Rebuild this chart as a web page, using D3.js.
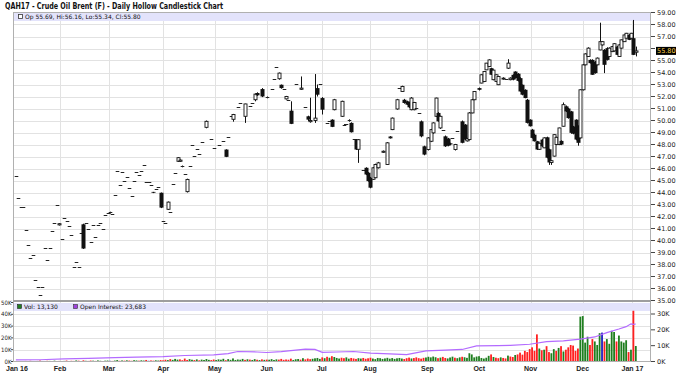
<!DOCTYPE html>
<html lang="en">
<head>
<meta charset="utf-8">
<script src="https://d3js.org/d3.v7.min.js"></script>
<style>
body { margin:0; background:#fff; }
svg { display:block; font-family:"DejaVu Sans", sans-serif; }
.grid line { stroke:#e2e2e2; shape-rendering:crispEdges; }
.tick-lbl { font-size:6.5px; fill:#222; }
.vol-lbl { font: 6px "DejaVu Sans Condensed", sans-serif; fill:#222; }
.mon { font: bold 7px "Liberation Sans", sans-serif; fill:#222; }
</style>
</head>
<body>
<script>
// month labels and the trading-day slot where each month starts
var monthLabels = ["Jan 16","Feb","Mar","Apr","May","Jun","Jul","Aug","Sep","Oct","Nov","Dec","Jan 17"];
var monthStart  = [0, 18.3, 38.6, 61.1, 82.5, 104, 126.8, 146.8, 170.6, 192.1, 213.4, 235, 255.6];

var priceTicks = d3.range(35, 60);
var volTicks = [0, 10000, 20000, 30000, 40000, 50000];
var oiTicks = [0, 10000, 20000, 30000];

// [day, open, high, low, close]
var candles = [
[0,45.36,45.36,45.36,45.36],[1,43.53,43.53,43.53,43.53],[2,42.82,42.82,42.82,42.82],[3,42.82,42.82,42.82,42.82],
[4,40.85,40.85,40.85,40.85],[5,39.60,39.60,39.60,39.60],[6,38.58,38.58,38.58,38.58],[7,38.80,38.80,38.80,38.80],
[8,36.72,36.72,36.72,36.72],[9,36.12,36.12,36.12,36.12],[10,35.48,35.48,35.48,35.48],[11,36.14,36.14,36.14,36.14],
[12,39.40,39.40,39.40,39.40],[13,38.36,38.36,38.36,38.36],[14,39.40,39.40,39.40,39.40],[15,40.77,40.77,40.77,40.77],
[16,41.43,41.43,41.43,41.43],[17,42.93,42.93,42.93,42.93],[18,41.30,41.45,41.25,41.40],[19,40.16,40.16,40.16,40.16],
[20,41.85,41.85,41.85,41.85],[21,41.60,41.60,41.60,41.60],[22,41.24,41.24,41.24,41.24],[23,40.46,40.46,40.46,40.46],
[24,37.78,37.78,37.78,37.78],[25,38.19,38.19,38.19,38.19],[26,37.78,37.78,37.78,37.78],[27,40.66,40.66,40.66,40.66],
[28,41.35,41.40,39.30,39.33],[29,41.50,41.50,41.50,41.50],[30,41.00,41.00,41.00,41.00],[31,39.90,39.90,39.90,39.90],
[32,41.33,41.33,41.33,41.33],[33,40.27,40.27,40.27,40.27],[34,41.27,41.27,41.27,41.27],[35,41.50,41.50,41.50,41.50],
[36,41.00,41.00,41.00,41.00],[37,42.16,42.16,42.16,42.16],[38,42.30,42.30,42.30,42.30],[39,42.35,42.40,42.25,42.30],
[40,42.20,42.20,42.20,42.20],[41,43.76,43.76,43.76,43.76],[42,45.83,45.83,45.83,45.83],[43,44.62,44.62,44.62,44.62],
[44,45.70,45.70,45.70,45.70],[45,44.92,44.92,44.92,44.92],[46,45.33,45.33,45.33,45.33],[47,44.36,44.36,44.36,44.36],
[48,43.73,43.73,43.73,43.73],[49,44.98,44.98,44.98,44.98],[50,45.73,45.73,45.73,45.73],[51,45.45,45.45,45.45,45.45],
[52,45.81,45.81,45.81,45.81],[53,46.28,46.28,46.28,46.28],[54,44.87,44.87,44.87,44.87],[55,44.87,44.87,44.87,44.87],
[56,44.65,44.65,44.65,44.65],[57,44.05,44.05,43.95,43.98],[58,44.26,44.26,44.26,44.26],[59,44.48,44.48,44.48,44.48],
[60,43.98,44.00,42.70,42.74],[61,41.62,41.62,41.62,41.62],[62,41.43,41.43,41.43,41.43],[63,42.60,43.25,42.55,43.20],
[64,42.37,42.37,42.37,42.37],[65,44.70,44.70,44.70,44.70],[66,45.60,45.60,45.60,45.60],[67,46.60,46.95,46.55,46.90],
[68,46.60,46.75,46.55,46.70],[69,46.15,46.25,46.10,46.20],[70,45.56,45.56,45.56,45.56],[71,44.07,45.15,44.00,45.09],
[72,46.20,46.20,46.20,46.20],[73,48.00,48.00,48.00,48.00],[74,47.02,47.02,47.02,47.02],[75,47.66,47.66,47.66,47.66],
[76,47.22,47.22,47.22,47.22],[77,48.22,48.22,48.22,48.22],[79,49.43,50.00,49.35,49.93],[81,48.50,48.50,48.50,48.50],
[82,47.72,47.72,47.72,47.72],[84,47.94,47.94,47.94,47.94],[86,48.33,48.33,48.33,48.33],[87,47.58,47.60,46.95,46.97],
[88,48.66,48.66,48.66,48.66],[89,50.35,50.35,50.35,50.35],[90,50.10,50.55,49.90,50.50],[92,51.10,51.10,51.10,51.10],
[93,51.46,51.46,51.46,51.46],[95,50.35,51.40,49.80,51.38],[97,51.18,51.18,51.18,51.18],[98,51.46,51.46,51.46,51.46],
[99,51.73,52.25,51.60,52.20],[100,52.29,52.35,52.05,52.10],[102,52.62,52.70,51.95,52.00],[104,51.90,52.00,51.85,51.96],
[106,52.62,52.62,52.62,52.62],[107,53.48,53.48,53.48,53.48],[108,54.45,54.45,54.45,54.45],[109,53.48,54.00,53.40,53.95],
[110,52.98,53.00,52.65,52.70],[111,52.62,52.62,52.62,52.62],[112,51.80,52.05,51.75,52.00],[113,51.73,51.73,51.73,51.73],
[114,50.82,51.60,49.70,49.72],[116,53.04,53.04,53.04,53.04],[118,52.60,53.67,52.55,52.70],[120,51.10,51.10,51.10,51.10],
[121,50.35,50.40,49.95,50.07],[122,49.90,51.90,49.82,50.00],[124,50.00,53.87,49.80,50.20],[125,52.70,53.00,52.00,52.15],
[126,53.04,53.04,53.04,53.04],[127,51.87,51.95,50.50,50.90],[129,49.80,49.80,49.80,49.80],[130,49.93,49.93,49.93,49.93],
[131,50.07,50.10,49.45,49.47],[132,50.90,51.80,50.85,51.73],[135,50.35,51.65,50.30,51.60],[136,49.60,49.70,49.55,49.66],
[137,49.74,49.74,49.74,49.74],[138,49.95,50.10,49.90,50.01],[139,49.80,49.85,49.00,49.02],[140,48.47,48.47,48.47,48.47],
[141,48.41,48.45,47.55,47.58],[142,47.60,48.45,46.47,48.40],[144,45.86,45.86,45.86,45.86],[145,46.06,46.10,45.45,45.50],
[146,45.65,45.70,44.90,44.95],[147,45.23,45.30,44.35,44.40],[148,45.10,46.10,45.05,46.06],[149,45.23,46.40,45.20,46.33],
[150,46.06,46.55,46.00,46.47],[152,47.35,47.50,47.30,47.44],[154,46.33,48.20,46.30,48.14],[155,48.55,48.70,48.50,48.63],
[156,49.24,50.25,49.20,50.20],[158,50.96,51.80,50.90,51.73],[159,52.70,52.70,52.70,52.70],[160,52.42,52.90,52.40,52.84],
[161,51.73,51.80,51.40,51.46],[162,51.60,51.65,51.30,51.32],[163,51.50,51.55,51.05,51.10],[164,50.90,51.95,50.85,51.87],
[165,50.90,51.55,50.85,51.50],[166,51.04,51.04,51.04,51.04],[167,50.63,50.63,50.63,50.63],[168,49.93,50.00,48.60,48.68],
[169,47.85,47.90,47.10,47.16],[171,47.58,48.60,47.50,48.55],[172,48.27,49.30,48.20,49.24],[173,48.97,49.85,48.90,49.80],
[174,50.35,51.90,50.30,51.87],[175,50.63,50.70,49.90,49.93],[176,49.38,50.40,49.30,50.35],[177,49.18,49.18,49.18,49.18],
[178,48.68,48.75,47.80,47.85],[179,48.50,48.55,47.85,47.90],[180,48.10,48.15,47.95,48.00],[181,48.55,48.55,48.55,48.55],
[182,47.58,48.05,47.50,48.00],[183,49.10,49.10,49.10,49.10],[185,49.93,50.00,48.10,48.14],[186,49.66,49.70,48.35,48.41],
[187,48.30,48.55,48.25,48.50],[188,48.41,50.70,48.35,50.63],[189,50.63,51.80,50.60,51.73],[190,51.73,52.45,51.70,52.42],
[192,52.70,52.75,52.50,52.56],[193,53.12,53.85,53.10,53.81],[194,53.25,54.10,53.20,54.08],[195,54.22,54.80,54.20,54.78],
[196,54.50,55.10,54.45,55.05],[197,54.36,54.40,53.80,53.81],[198,53.40,54.25,53.35,54.20],[199,53.25,53.85,53.20,53.81],
[200,52.98,53.70,52.95,53.67],[202,53.45,53.60,53.40,53.53],[203,53.50,53.50,53.50,53.50],[204,54.36,55.11,54.30,54.78],
[205,53.40,53.60,53.35,53.53],[206,53.81,53.85,53.35,53.40],[207,54.08,54.10,53.50,53.53],[208,53.90,53.95,53.25,53.30],
[209,53.53,53.60,52.40,52.42],[210,52.98,53.00,52.10,52.15],[211,52.56,52.60,51.85,51.87],[212,51.73,51.80,49.75,49.80],
[213,50.07,50.10,49.50,49.52],[214,49.24,49.30,48.50,48.55],[215,48.82,48.90,48.25,48.27],[216,48.27,48.30,47.55,47.58],
[217,47.60,48.15,47.55,48.10],[218,48.41,48.45,47.80,47.85],[219,47.72,48.60,47.70,48.55],[220,48.60,48.65,46.85,46.90],
[221,47.60,47.65,46.30,46.50],[222,46.50,46.70,46.30,46.65],[223,47.03,48.85,47.00,48.82],[224,48.00,48.65,47.95,48.60],
[225,48.00,49.40,47.95,49.38],[226,48.30,48.35,47.95,48.00],[227,49.52,51.50,49.50,51.32],[228,51.18,51.25,50.70,50.76],
[229,51.00,51.05,50.15,50.20],[230,50.76,50.80,48.90,48.97],[231,49.50,49.55,48.85,48.90],[232,50.07,50.10,48.35,48.41],
[233,49.52,49.60,47.90,48.14],[234,48.55,52.60,48.50,52.56],[235,52.56,54.70,52.50,54.64],[236,54.64,55.60,54.60,55.55],
[237,55.33,56.10,55.30,56.03],[238,55.05,55.10,54.75,54.78],[239,55.05,55.10,53.80,53.81],[240,54.90,54.95,53.90,53.95],
[241,54.64,55.25,54.60,55.20],[242,55.88,58.15,55.85,56.57],[243,56.30,56.60,56.25,56.57],[244,55.88,55.95,53.95,54.64],
[245,56.03,56.10,55.00,55.05],[246,55.33,56.10,55.30,56.03],[247,55.74,56.20,55.70,56.16],[248,55.80,56.45,55.75,56.40],
[249,56.16,56.20,55.45,55.47],[250,55.33,56.35,55.30,56.30],[251,56.03,56.75,56.00,56.72],[252,56.57,57.15,56.55,57.13],
[253,56.86,57.30,56.85,57.27],[254,57.13,57.20,56.70,56.72],[255,56.86,57.30,56.85,57.27],[256,56.86,58.38,55.45,55.47],
[257,55.69,56.16,55.34,55.80]
];

// daily volume in contracts (thousands), one entry per day slot 0..257
var volumeK = [
0.3,0.2,0.4,0.2,0.5,0.3,0.6,0.4,0.3,0.5,0.8,0.4,0.3,0.6,0.5,0.4,0.7,0.3,0.5,0.4,
0.5,0.8,0.4,0.6,0.5,0.9,0.7,0.4,1.0,0.6,0.5,0.8,0.7,0.5,0.9,0.6,0.4,0.7,0.8,0.6,0.5,
0.8,1.2,0.6,0.9,0.7,1.0,0.8,0.6,1.1,0.9,0.7,1.0,0.8,1.3,0.6,0.9,0.7,1.0,0.8,1.2,
1.0,1.5,1.2,2.0,1.4,2.2,1.6,1.8,1.1,2.5,1.3,2.0,1.5,1.2,1.8,1.0,1.6,1.3,2.1,1.4,1.2,1.7,
1.2,1.8,1.5,2.3,1.1,2.0,1.4,2.6,1.3,1.7,1.5,2.2,1.4,1.9,1.6,1.3,2.0,1.5,1.2,1.8,1.4,1.6,
1.5,2.0,1.3,1.8,1.6,2.2,1.4,1.7,1.5,2.4,1.3,1.9,2.1,1.6,2.8,1.8,2.5,2.0,2.3,2.7,3.0,2.2,
3.5,2.8,4.0,3.2,4.5,3.8,3.0,2.5,3.2,2.8,3.5,2.4,3.0,2.6,2.2,2.8,2.5,3.0,2.3,2.7,3.2,
2.5,2.0,3.0,2.8,2.2,2.6,3.1,2.4,2.9,2.2,2.7,3.0,2.5,2.1,2.8,3.3,2.6,2.9,3.5,2.8,2.4,3.1,3.4,
4.0,3.5,4.2,3.6,2.8,3.3,3.9,3.0,2.6,3.4,4.1,3.2,2.8,3.5,4.0,3.6,3.1,7.0,6.0,3.5,4.2,
4.5,3.0,2.5,3.2,4.8,6.0,3.8,3.2,2.8,3.5,3.0,2.6,5.0,4.2,3.8,5.5,6.0,7.5,5.8,9.0,8.0,
10.5,12.0,9.0,23.0,11.0,9.5,10.0,13.0,8.0,7.0,10.5,9.0,11.5,13.0,8.5,10.0,12.0,14.0,13.5,9.0,11.0,38.0,
38.5,16.0,21.0,14.0,19.0,17.0,14.0,24.0,24.5,17.0,19.0,15.0,26.0,25.0,17.0,22.0,17.0,16.0,18.0,8.0,10.0,43.0,13.13
];

// open interest (thousands) read at [day, value]
var openInterest = [
[0,1.0],[10,1.1],[20,1.6],[30,2.0],[41,2.5],[50,2.8],[61,3.1],[70,3.8],[82,4.2],[88,5.0],[92,6.3],[100,6.0],
[104,5.7],[110,6.2],[115,7.0],[120,7.8],[124,7.6],[127,5.8],[133,6.0],[140,6.3],[147,5.3],[155,4.8],[162,4.4],
[170,6.7],[178,7.2],[185,7.6],[191,9.9],[200,10.0],[205,10.2],[213,10.9],[220,12.6],[227,13.0],[234,14.1],
[240,15.5],[245,18.2],[250,20.5],[253,22.0],[255,23.8],[256,23.5],[257,23.7]
];

var W = 680, H = 386;
var L = 13, R = 651;
var pTop = 12.5, pBot = 300.5, vTop = 301.5, vBot = 361.5;

var svg = d3.select("body").append("svg").attr("width", W).attr("height", H);

var x = d3.scaleLinear().domain([-1.2, 263.3]).range([L, R]);
var y = d3.scaleLinear().domain([35, 59]).range([pBot, pTop]);
var yv = d3.scaleLinear().domain([0, 50000]).range([vBot, vTop + 1]);
var yo = d3.scaleLinear().domain([0, 30000]).range([vBot, 314]);

// title
svg.append("text").attr("x", 5).attr("y", 9)
  .style("font", "bold 8.6px 'DejaVu Sans Condensed', sans-serif").style("fill", "#111")
  .attr("textLength", 218).attr("lengthAdjust", "spacingAndGlyphs")
  .text("QAH17 - Crude Oil Brent (F) - Daily Hollow Candlestick Chart");

// panel backgrounds
svg.append("rect").attr("x", L).attr("y", pTop).attr("width", R - L).attr("height", pBot - pTop).attr("fill", "#fff");
svg.append("rect").attr("x", L).attr("y", vTop).attr("width", R - L).attr("height", vBot - vTop).attr("fill", "#fff");

// grid
var grid = svg.append("g").attr("class", "grid");
grid.selectAll(".hp").data(priceTicks).enter().append("line")
  .attr("x1", L).attr("x2", R).attr("y1", d => Math.round(y(d)) + 0.5).attr("y2", d => Math.round(y(d)) + 0.5);
grid.selectAll(".hv").data(volTicks.slice(1, 5)).enter().append("line")
  .attr("x1", L).attr("x2", R).attr("y1", d => Math.round(yv(d)) + 0.5).attr("y2", d => Math.round(yv(d)) + 0.5);
grid.selectAll(".vp").data(monthStart.slice(1)).enter().append("line")
  .attr("x1", d => Math.round(x(d)) + 0.5).attr("x2", d => Math.round(x(d)) + 0.5)
  .attr("y1", pTop).attr("y2", pBot);
grid.selectAll(".vv").data(monthStart.slice(1)).enter().append("line")
  .attr("x1", d => Math.round(x(d)) + 0.5).attr("x2", d => Math.round(x(d)) + 0.5)
  .attr("y1", vTop).attr("y2", vBot);

// legend bands
svg.append("rect").attr("x", L + 1).attr("y", 13).attr("width", R - L - 1).attr("height", 8).attr("fill", "#e3e3fb");
svg.append("rect").attr("x", L + 1).attr("y", 303).attr("width", R - L - 1).attr("height", 8).attr("fill", "#e3e3fb");

svg.append("rect").attr("x", 18.5).attr("y", 14.5).attr("width", 4).attr("height", 4)
  .attr("fill", "#fff").attr("stroke", "#333").attr("stroke-width", 0.8);
svg.append("text").attr("x", 25).attr("y", 19).style("font-size", "6px").style("fill", "#111")
  .text("Op 55.69, Hi:56.16, Lo:55.34, Cl:55.80");

svg.append("rect").attr("x", 17.5).attr("y", 304.5).attr("width", 4).attr("height", 4)
  .attr("fill", "#1f7f1f").attr("stroke", "#222").attr("stroke-width", 0.6);
svg.append("text").attr("x", 24).attr("y", 309.3).style("font-size", "6px").style("fill", "#111").text("Vol: 13,130");
svg.append("rect").attr("x", 73.5).attr("y", 304.5).attr("width", 4).attr("height", 4)
  .attr("fill", "#a040e0").attr("stroke", "#333").attr("stroke-width", 0.6);
svg.append("text").attr("x", 80).attr("y", 309.3).style("font-size", "6px").style("fill", "#111").text("Open Interest: 23,683");

// candles
var cg = svg.append("g");
candles.forEach(function(d) {
  var cx = Math.round(x(d[0])) + 0.5;
  var o = d[1], h = d[2], l = d[3], c = d[4];
  if (h > l) {
    cg.append("line").attr("x1", cx).attr("x2", cx).attr("y1", y(h)).attr("y2", y(l))
      .attr("stroke", "#111").attr("stroke-width", 1);
  }
  var top = y(Math.max(o, c)), bot = y(Math.min(o, c));
  if (bot - top < 0.8) {
    cg.append("line").attr("x1", cx - 1.8).attr("x2", cx + 1.8)
      .attr("y1", Math.round(top) + 0.5).attr("y2", Math.round(top) + 0.5)
      .attr("stroke", "#222").attr("stroke-width", 1);
  } else if (c >= o) {
    cg.append("rect").attr("x", cx - 1.5).attr("y", top).attr("width", 3).attr("height", bot - top)
      .attr("fill", "#fff").attr("stroke", "#111").attr("stroke-width", 0.9);
  } else {
    cg.append("rect").attr("x", cx - 2).attr("y", top).attr("width", 4).attr("height", bot - top)
      .attr("fill", "#111");
  }
});

// volume bars, coloured by close vs previous close
var closeByDay = {};
candles.forEach(function(d) { closeByDay[d[0]] = d[4]; });
var prevClose = null;
var vbars = [];
volumeK.forEach(function(v, i) {
  var c = closeByDay[i];
  var col = "#1f7f1f";
  if (c !== undefined && prevClose !== null) {
    col = c > prevClose ? "#1f7f1f" : (c < prevClose ? "#ff2020" : "#2020c0");
  }
  if (c !== undefined) prevClose = c;
  vbars.push({ i: i, v: v * 1000, col: col });
});
svg.append("g").selectAll("rect").data(vbars).enter().append("rect")
  .attr("x", d => x(d.i) - 0.9).attr("width", 1.8)
  .attr("y", d => yv(d.v)).attr("height", d => vBot - yv(d.v))
  .attr("fill", d => d.col);

// open interest
var oiLine = d3.line().x(d => x(d[0])).y(d => yo(d[1] * 1000));
svg.append("path").datum(openInterest).attr("d", oiLine)
  .attr("fill", "none").attr("stroke", "#b36bff").attr("stroke-width", 1.2);

// frames
svg.append("rect").attr("x", L + 0.5).attr("y", pTop).attr("width", R - L - 1).attr("height", pBot - pTop)
  .attr("fill", "none").attr("stroke", "#b0b0b0");
svg.append("rect").attr("x", L + 0.5).attr("y", vTop).attr("width", R - L - 1).attr("height", vBot - vTop)
  .attr("fill", "none").attr("stroke", "#b0b0b0");
svg.append("line").attr("x1", L).attr("x2", R).attr("y1", 301).attr("y2", 301).attr("stroke", "#999").attr("stroke-width", 1.5);

// right price axis (the label under the last-price marker is hidden)
var last = candles[candles.length - 1][4];
var ra = svg.append("g");
ra.selectAll("line").data(priceTicks).enter().append("line")
  .attr("x1", R).attr("x2", R + 4).attr("y1", d => y(d)).attr("y2", d => y(d)).attr("stroke", "#444");
ra.selectAll("text").data(priceTicks.filter(d => Math.abs(y(d) - y(last)) > 7)).enter().append("text").attr("class", "tick-lbl")
  .attr("x", R + 6).attr("y", d => y(d)).attr("dy", "0.35em").text(d => d3.format(".2f")(d));

// last price marker
svg.append("rect").attr("x", R + 5).attr("y", y(last) - 4).attr("width", 20).attr("height", 8).attr("fill", "#000");
svg.append("text").attr("class", "tick-lbl").attr("x", R + 6).attr("y", y(last)).attr("dy", "0.35em")
  .style("fill", "#ffd24a").text(d3.format(".2f")(last));

// volume axes
var va = svg.append("g");
va.selectAll("line").data(volTicks).enter().append("line")
  .attr("x1", L - 2).attr("x2", L).attr("y1", d => yv(d)).attr("y2", d => yv(d)).attr("stroke", "#444");
va.selectAll("text").data(volTicks).enter().append("text").attr("class", "vol-lbl")
  .attr("x", L - 1.5).attr("y", d => yv(d)).attr("dy", "0.35em").attr("text-anchor", "end")
  .text(d => (d / 1000) + "K");
var oa = svg.append("g");
oa.selectAll("line").data(oiTicks).enter().append("line")
  .attr("x1", R).attr("x2", R + 4).attr("y1", d => yo(d)).attr("y2", d => yo(d)).attr("stroke", "#444");
oa.selectAll("text").data(oiTicks).enter().append("text").attr("class", "tick-lbl")
  .attr("x", R + 6).attr("y", d => yo(d)).attr("dy", "0.35em").text(d => (d / 1000) + "K");

// month labels
svg.append("g").selectAll("text").data(monthLabels).enter().append("text").attr("class", "mon")
  .attr("x", (d, i) => i === 0 ? 6 : x(monthStart[i])).attr("y", 371)
  .attr("text-anchor", (d, i) => i === 0 ? "start" : "middle").text(d => d);
</script>
</body>
</html>
